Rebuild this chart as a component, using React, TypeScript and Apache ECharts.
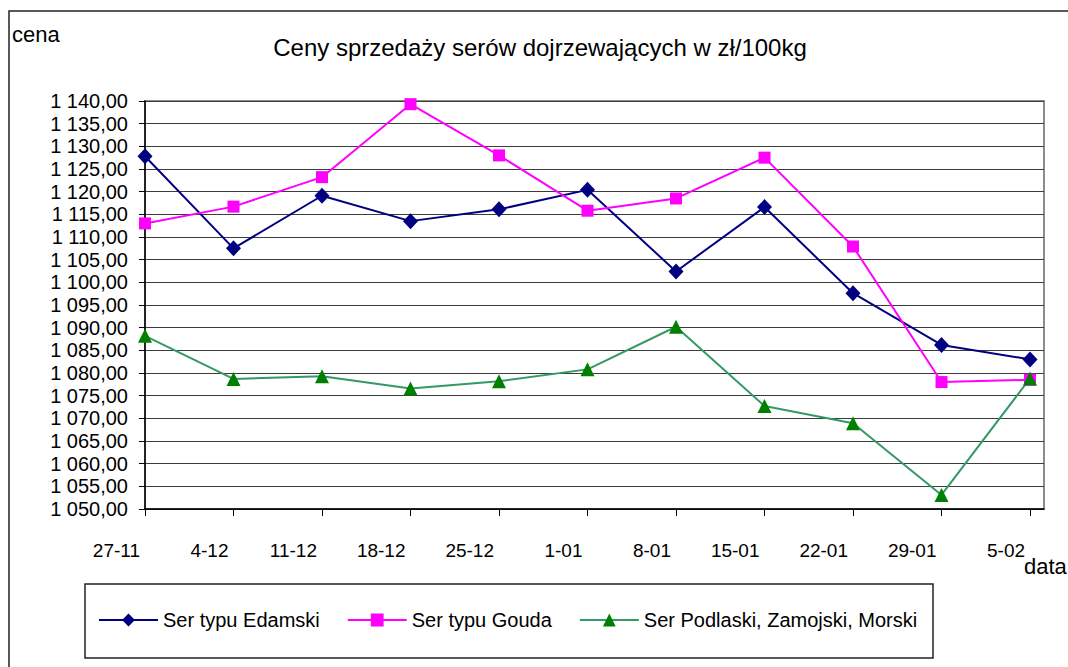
import { useEffect, useRef } from "react";
import * as echarts from "echarts";

const categories = ["27-11", "4-12", "11-12", "18-12", "25-12", "1-01", "8-01", "15-01", "22-01", "29-01", "5-02"];
const edamski = [1127.8, 1107.5, 1119.1, 1113.5, 1116.1, 1120.4, 1102.4, 1116.6, 1097.6, 1086.2, 1083.0];
const gouda = [1113.0, 1116.7, 1123.2, 1139.3, 1128.0, 1115.8, 1118.5, 1127.5, 1107.9, 1078.0, 1078.5];
const podlaski = [1088.2, 1078.7, 1079.3, 1076.6, 1078.2, 1080.8, 1090.2, 1072.7, 1068.9, 1053.1, 1078.8];
const seriesNames = ["Ser typu Edamski", "Ser typu Gouda", "Ser Podlaski, Zamojski, Morski"];
const titleText = "Ceny sprzedaży serów dojrzewających w zł/100kg";
const yName = "cena";
const xName = "data";
const yMin = 1050;
const yMax = 1140;
const yStep = 5;

const FONT = "'Liberation Sans', Arial, sans-serif";

function fmtY(v: number): string {
  const s = v.toFixed(2);
  const [i, d] = s.split(".");
  return i.replace(/\B(?=(\d{3})+(?!\d))/g, " ") + "," + d;
}

function pairs(vals: number[]) {
  return vals.map((v, i) => [i, v]);
}

export default function App() {
  const ref = useRef<HTMLDivElement>(null);
  useEffect(() => {
    if (!ref.current) return;
    const chart = echarts.init(ref.current, undefined, { renderer: "svg" });
    const option: any = {
      animation: false,
      backgroundColor: "#ffffff",
      textStyle: { fontFamily: FONT },
      grid: {
        left: 145,
        top: 101,
        width: 899,
        height: 408,
        show: true,
        borderColor: "#8c8c8c",
        borderWidth: 2,
        backgroundColor: "transparent",
      },
      xAxis: {
        type: "value",
        min: 0,
        max: categories.length - 1 + 0.158,
        interval: 1,
        splitLine: { show: false },
        axisLine: { show: true, lineStyle: { color: "#000", width: 1.5 } },
        axisTick: { show: true, length: 7, lineStyle: { color: "#000" } },
        axisLabel: {
          margin: 32,
          fontSize: 19,
          color: "#000",
          fontFamily: FONT,
          align: "right",
          padding: [0, 5, 0, 0],
          showMaxLabel: false,
          formatter: (v: number) => (Number.isInteger(v) && categories[v] !== undefined ? categories[v] : ""),
        },
      },
      yAxis: {
        type: "value",
        min: yMin,
        max: yMax,
        interval: yStep,
        axisLine: { show: true, lineStyle: { color: "#000", width: 1.5 } },
        axisTick: { show: true, length: 6, lineStyle: { color: "#000" } },
        splitLine: { show: true, lineStyle: { color: "#3c3c3c", width: 1 } },
        axisLabel: { margin: 17, fontSize: 20, color: "#000", fontFamily: FONT, formatter: fmtY },
      },
      legend: {
        left: 98,
        top: 610,
        padding: 0,
        itemWidth: 59,
        itemHeight: 16,
        itemGap: 27,
        textStyle: { fontSize: 20, color: "#000", fontFamily: FONT },
        data: seriesNames,
      },
      graphic: [
        {
          type: "rect",
          shape: { x: 9, y: 11, width: 1100, height: 700 },
          style: { fill: "none", stroke: "#222", lineWidth: 1.5 },
          silent: true,
          z: -1,
        },
        {
          type: "rect",
          shape: { x: 85, y: 584, width: 848, height: 74 },
          style: { fill: "none", stroke: "#222", lineWidth: 1.5 },
          silent: true,
        },
        {
          type: "text",
          x: 12,
          y: 34,
          style: { text: yName, fontSize: 22, fill: "#000", fontFamily: FONT, align: "left", verticalAlign: "middle" },
        },
        {
          type: "text",
          x: 540,
          y: 47,
          style: { text: titleText, fontSize: 24, fill: "#000", fontFamily: FONT, align: "center", verticalAlign: "middle" },
        },
        {
          type: "text",
          x: 1024,
          y: 566,
          style: { text: xName, fontSize: 22, fill: "#000", fontFamily: FONT, align: "left", verticalAlign: "middle" },
        },
      ],
      series: [
        {
          name: seriesNames[0],
          type: "line",
          data: pairs(edamski),
          symbol: "diamond",
          symbolSize: [15, 16],
          lineStyle: { color: "#000080", width: 2 },
          itemStyle: { color: "#000080" },
        },
        {
          name: seriesNames[1],
          type: "line",
          data: pairs(gouda),
          symbol: "rect",
          symbolSize: 12,
          lineStyle: { color: "#ff00ff", width: 2 },
          itemStyle: { color: "#ff00ff" },
        },
        {
          name: seriesNames[2],
          type: "line",
          data: pairs(podlaski),
          symbol: "triangle",
          symbolSize: [14, 14],
          lineStyle: { color: "#339966", width: 2 },
          itemStyle: { color: "#008000" },
        },
      ],
    };
    chart.setOption(option);
    return () => chart.dispose();
  }, []);
  return <div ref={ref} style={{ position: "fixed", left: 0, top: 0, width: 1068, height: 667 }} />;
}
